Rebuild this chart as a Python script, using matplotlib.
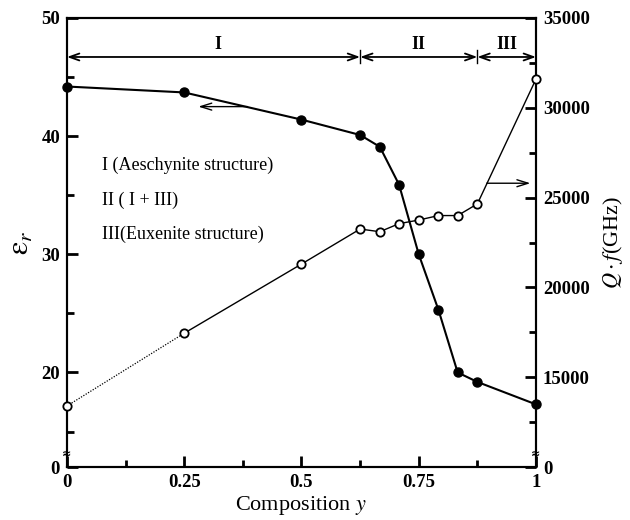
import matplotlib
matplotlib.use("Agg")
import matplotlib.pyplot as plt
from matplotlib.ticker import FixedLocator

# ---- data ----
composition = [0, 0.25, 0.5, 0.625, 0.667, 0.708, 0.75, 0.792, 0.833, 0.875, 1.0]
eps_r = [44.2, 43.7, 41.4, 40.1, 39.1, 35.9, 30.0, 25.3, 20.0, 19.2, 17.3]
qf = [13400, 17450, 21300, 23250, 23100, 23550, 23750, 24000, 24000, 24650, 31600]

phase_bounds = [0, 0.625, 0.875, 1.0]
phase_labels = ["I", "II", "III"]
legend_lines = ["I (Aeschynite structure)", "II ( I + III)", "III(Euxenite structure)"]

x_ticks = [0, 0.25, 0.5, 0.75, 1]
x_ticklabels = ["0", "0.25", "0.5", "0.75", "1"]
left_ticks = [12, 20, 30, 40, 50]
left_ticklabels = ["0", "20", "30", "40", "50"]
right_ticks = [10000, 15000, 20000, 25000, 30000, 35000]
right_ticklabels = ["0", "15000", "20000", "25000", "30000", "35000"]

plt.rcParams['font.family'] = ['Liberation Serif', 'DejaVu Serif']
plt.rcParams['mathtext.fontset'] = 'stix'

fig = plt.figure(figsize=(6.3, 5.2), dpi=100)
ax = fig.add_axes([0.1063, 0.1019, 0.7445, 0.8635])
ax2 = ax.twinx()

ax.set_xlim(0, 1)
ax.set_ylim(12, 50)
ax2.set_ylim(10000, 35000)

# eps_r curve (filled)
ax.plot(composition, eps_r, color='black', lw=1.5, marker='o', ms=6.5,
        mfc='black', mec='black', zorder=5, clip_on=False)

# Q*f curve (open); first segment dotted
ax2.plot(composition[:2], qf[:2], color='black', lw=0.9, ls=(0, (1, 1.2)), zorder=3)
ax2.plot(composition[1:], qf[1:], color='black', lw=1.0, zorder=3)
ax2.plot(composition, qf, ls='none', marker='o', ms=6, mfc='white', mec='black',
         mew=1.3, zorder=6, clip_on=False)

# ticks
for a in (ax, ax2):
    for s in a.spines.values():
        s.set_linewidth(1.5)
ax.set_xticks(x_ticks)
ax.set_xticklabels(x_ticklabels)
ax.xaxis.set_minor_locator(FixedLocator([0.125, 0.375, 0.625, 0.875]))
ax.set_yticks(left_ticks)
ax.set_yticklabels(left_ticklabels)
ax.yaxis.set_minor_locator(FixedLocator([15, 25, 35, 45]))
ax2.set_yticks(right_ticks)
ax2.set_yticklabels(right_ticklabels)
ax2.yaxis.set_minor_locator(FixedLocator([12500, 17500, 22500, 27500, 32500]))

ax.tick_params(axis='both', which='major', direction='in', length=8, width=2,
               labelsize=13.5, top=False, right=False, pad=5)
ax.tick_params(axis='both', which='minor', direction='in', length=5, width=2,
               top=False, right=False)
ax2.tick_params(axis='y', which='major', direction='in', length=8, width=2,
                labelsize=13.5, pad=5)
ax2.tick_params(axis='y', which='minor', direction='in', length=5, width=2)
for lab in ax.get_xticklabels() + ax.get_yticklabels() + ax2.get_yticklabels():
    lab.set_fontweight('bold')

ax.set_xlabel("Composition $y$", fontsize=16, labelpad=2)
ax.set_ylabel(r"$\mathrm{\varepsilon}_r$", fontsize=22, labelpad=4)
ax2.set_ylabel(r"$Q\cdot f$(GHz)", fontsize=16, labelpad=8)

# axis break marks
ax.text(0, 13.1, "≈", transform=ax.transData, ha='center', va='center',
        fontsize=8, fontweight='bold', family='DejaVu Sans', clip_on=False, zorder=10)
ax.text(1, 13.1, "≈", transform=ax.transData, ha='center', va='center',
        fontsize=8, fontweight='bold', family='DejaVu Sans', clip_on=False, zorder=10)

# phase range arrows
y_arrow = 46.7
for i in range(3):
    ax.annotate('', xy=(phase_bounds[i], y_arrow), xytext=(phase_bounds[i + 1], y_arrow),
                arrowprops=dict(arrowstyle='<->,head_length=0.7,head_width=0.25',
                                lw=1.3, color='black', shrinkA=0, shrinkB=0))
    ax.text((phase_bounds[i] + phase_bounds[i + 1]) / 2 + (0.01 if i == 0 else 0),
            47.75, phase_labels[i], ha='center', va='center', fontsize=13,
            fontweight='bold')
for b in phase_bounds[1:3]:
    ax.plot([b, b], [y_arrow - 0.55, y_arrow + 0.55], color='black', lw=1.0)

# legend text
for k, t in enumerate(legend_lines):
    ax.text(0.075, 37.5 - k * 2.9, t, fontsize=13, ha='left', va='center')

# curve indicator arrows
ax.annotate('', xy=(0.28, 42.5), xytext=(0.385, 42.5),
            arrowprops=dict(arrowstyle='->,head_length=0.8,head_width=0.25',
                            lw=1.0, color='black', shrinkA=0, shrinkB=0))
ax2.annotate('', xy=(0.988, 25800), xytext=(0.895, 25800),
             arrowprops=dict(arrowstyle='->,head_length=0.8,head_width=0.25',
                             lw=1.0, color='black', shrinkA=0, shrinkB=0))

fig.savefig("out.png", dpi=100)
